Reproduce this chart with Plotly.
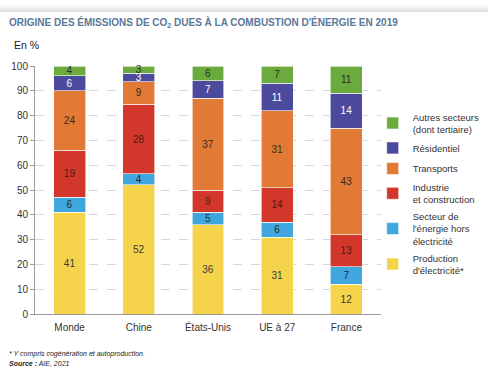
import plotly.graph_objects as go

categories = ["Monde", "Chine", "États-Unis", "UE à 27", "France"]
series_names = [
    "Production<br>d'électricité*",
    "Secteur de<br>l'énergie hors<br>électricité",
    "Industrie<br>et construction",
    "Transports",
    "Résidentiel",
    "Autres secteurs<br>(dont tertiaire)",
]
production = [41, 52.1, 36, 31, 12]
energie = [6, 4.4, 5, 6, 7]
industrie = [19, 28.1, 9, 14, 13]
transports = [24, 9.1, 37, 31, 43]
residentiel = [6, 3.4, 7, 11, 14]
autres = [4, 2.9, 6, 7, 11]
series_values = [production, energie, industrie, transports, residentiel, autres]
colors = ["#f5d34b", "#3fa7dd", "#d3372b", "#e07a35", "#4b4a9d", "#6bab3e"]
text_colors = ["#3a3a3a", "#2a2a2a", "#4a1a14", "#3a2a1a", "#ffffff", "#2a2a2a"]
y_ticks = [0, 10, 20, 30, 40, 50, 60, 70, 80, 90, 100]

fig = go.Figure()
n = len(series_names)
for i, (name, vals, c, tc) in enumerate(zip(series_names, series_values, colors, text_colors)):
    fig.add_trace(go.Bar(
        x=categories, y=vals, name=name, legendgroup=f"g{i}",
        legendrank=1000 + (n - i),
        marker=dict(color=c, line=dict(color="white", width=0.6)),
        text=[f"{v:.0f}" for v in vals], textposition="inside",
        insidetextanchor="middle", constraintext="none",
        textfont=dict(color=tc, size=10, family="Liberation Sans"),
        textangle=0, cliponaxis=False,
    ))

# top shadow band
shade = ["#fdfdfd", "#f8f8f8", "#f2f2f2", "#ececec", "#e4e4e4", "#dcdcdc"]
for i, g in enumerate(shade):
    top = 374 - 4 - i * 1.3
    bot = top - 1.4
    fig.add_shape(type="rect", xref="paper", yref="paper",
                  x0=-0.2, x1=1.35,
                  y0=(bot - 60) / 248, y1=(top - 60) / 248,
                  fillcolor=g, line=dict(width=0), layer="below")

fig.update_layout(
    width=488, height=374,
    margin=dict(l=35, r=107, t=66, b=60, autoexpand=False),
    barmode="stack", bargap=0.54,
    plot_bgcolor="white", paper_bgcolor="white",
    font=dict(family="Liberation Sans", color="#333333", size=10),
    showlegend=True,
    legend=dict(
        x=0.976, y=0.846, xanchor="left", yanchor="top",
        traceorder="grouped", tracegroupgap=1.5,
        font=dict(size=9.5, color="#333333"),
        itemwidth=30, bgcolor="rgba(0,0,0,0)",
    ),
    xaxis=dict(
        range=[-0.5, 4.5], showline=True, linecolor="#9a9a9a", linewidth=1,
        ticks="", tickfont=dict(size=10, color="#333333"), ticklabelstandoff=4,
    ),
    yaxis=dict(
        range=[0, 100], tickvals=y_ticks, showline=True, linecolor="#9a9a9a",
        linewidth=1, ticks="outside", ticklen=4, tickcolor="#9a9a9a",
        showgrid=True, gridcolor="#d8d8d8", griddash="dash", gridwidth=1,
        tickfont=dict(size=10, color="#333333"), zeroline=False,
    ),
    uniformtext=dict(mode="show", minsize=10),
)

fig.add_annotation(
    xref="paper", yref="paper", x=-0.081, y=1.177, xanchor="left", yanchor="middle",
    text="<b>ORIGINE DES ÉMISSIONS DE CO<sub>2</sub> DUES À LA COMBUSTION D'ÉNERGIE EN 2019</b>",
    showarrow=False, font=dict(size=10, color="#5a7898", family="Liberation Sans"),
)
fig.add_annotation(
    xref="paper", yref="paper", x=-0.066, y=1.085, xanchor="left", yanchor="middle",
    text="En %", showarrow=False, font=dict(size=10.5, color="#222222"),
)
fig.add_annotation(
    xref="paper", yref="paper", x=-0.081, y=-0.16, xanchor="left", yanchor="middle",
    text="<i>* Y compris cogénération et autoproduction.</i>", showarrow=False,
    font=dict(size=7, color="#222222"),
)
fig.add_annotation(
    xref="paper", yref="paper", x=-0.081, y=-0.2, xanchor="left", yanchor="middle",
    text="<b><i>Source :</i></b><i> AIE, 2021</i>", showarrow=False,
    font=dict(size=7, color="#222222"),
)

fig.write_html("out.html", config={"displayModeBar": False},
               post_script="document.body.style.margin='0';")
